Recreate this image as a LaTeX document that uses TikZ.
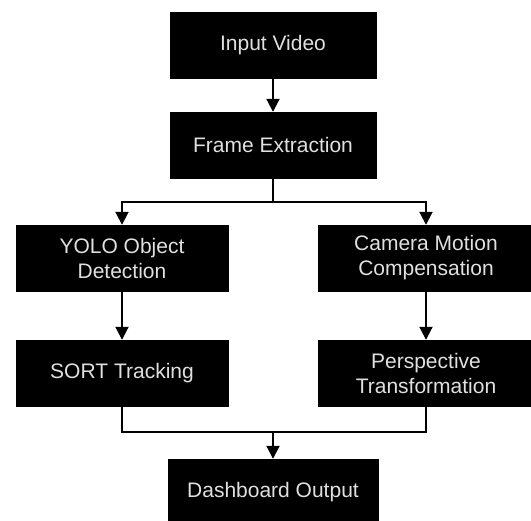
\documentclass[tikz,border=0pt]{standalone}
\usepackage{fontspec}
\setmainfont{Liberation Sans}
\usetikzlibrary{arrows.meta}

\begin{document}
\begin{tikzpicture}[x=1pt, y=-1pt,
    stage/.style={fill=black, draw=black, text=white!88!black, align=center,
        minimum height=66pt, inner sep=2pt, font=\fontsize{21}{25}\selectfont},
    flow/.style={line width=2pt, -{Triangle[width=13pt,length=13pt]}},
    link/.style={line width=2pt}]

    \useasboundingbox (0,0) rectangle (531,521);

    % main column
    \node[stage, minimum width=206pt] (input) at (273,45) {Input Video};
    \node[stage, minimum width=206pt] (frame) at (273,145) {Frame Extraction};

    % left branch
    \node[stage, minimum width=212pt] (yolo) at (122,258) {YOLO Object\\Detection};
    \node[stage, minimum width=212pt] (sort) at (122,373) {SORT Tracking};

    % right branch
    \node[stage, minimum width=216pt] (camera) at (426,258) {Camera Motion\\Compensation};
    \node[stage, minimum width=216pt] (persp) at (426,373) {Perspective\\Transformation};

    % output
    \node[stage, minimum width=210pt] (dash) at (273,492) {Dashboard Output};

    \coordinate (split) at (273,202);
    \coordinate (merge) at (273,432);

    \draw[flow] (input) -- (frame);

    % fan out after frame extraction
    \draw[link] (frame.south) -- (split);
    \draw[flow] (split) -| (yolo.north);
    \draw[flow] (split) -| (camera.north);

    \draw[flow] (yolo) -- (sort);
    \draw[flow] (camera) -- (persp);

    % join both branches
    \draw[link] (sort.south) |- (merge);
    \draw[link] (persp.south) |- (merge);
    \draw[flow] (merge) -- (dash);

\end{tikzpicture}
\end{document}
